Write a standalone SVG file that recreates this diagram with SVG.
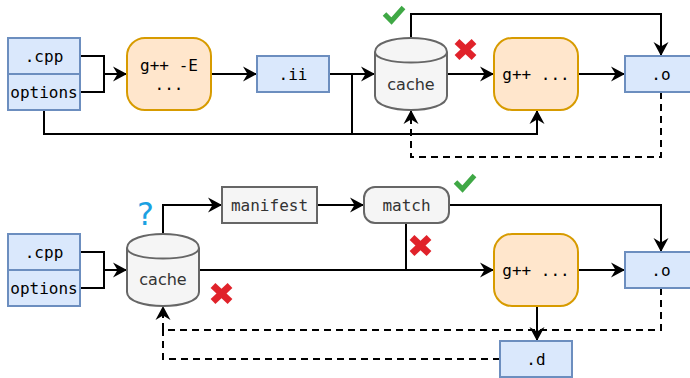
<svg xmlns="http://www.w3.org/2000/svg" xmlns:xlink="http://www.w3.org/1999/xlink" width="690" height="378" viewBox="0 0 690 378">
<style>
.blue{fill:#dae8fc;stroke:#6c8ebf;stroke-width:2}
.orange{fill:#ffe6cc;stroke:#d79b00;stroke-width:2}
.gray{fill:#f5f5f5;stroke:#666666;stroke-width:2}
.mono{font-family:"DejaVu Sans Mono","Liberation Mono",monospace;font-size:16px;fill:#000;text-anchor:middle}
.monog{font-family:"DejaVu Sans Mono","Liberation Mono",monospace;font-size:16px;fill:#333;text-anchor:middle}
.sans{font-family:"DejaVu Sans","Liberation Sans",sans-serif;font-size:16px;fill:#333;text-anchor:middle}
.ln{fill:none;stroke:#000;stroke-width:2}
.arr{marker-end:url(#arr)}
.dash{stroke-dasharray:7 5}
.chk{fill:none;stroke:#3fa845;stroke-width:5;stroke-linejoin:miter}
.xm{stroke:#e0222a;stroke-width:7}
</style>
<defs>
<marker id="arr" markerWidth="16" markerHeight="16" refX="14" refY="8" orient="auto" markerUnits="userSpaceOnUse" viewBox="0 0 16 16"><path d="M14,8 L0,0.5 L4.5,8 L0,15.5 Z" fill="#000"/></marker>
<g id="xmark"><line class="xm" x1="-8.5" y1="-8" x2="8.5" y2="8"/><line class="xm" x1="-8.5" y1="8" x2="8.5" y2="-8"/></g>
</defs>

<g id="connectors">
<path class="ln" d="M80,56 H104 V92 H80"/>
<path class="ln arr" d="M104,74 H127"/>
<path class="ln arr" d="M211,74 H257"/>
<path class="ln arr" d="M329,74 H375"/>
<path class="ln arr" d="M44,110 V134 H537 V110"/>
<path class="ln" d="M352,134 V74"/>
<path class="ln arr" d="M447,74 H494"/>
<path class="ln arr" d="M578,74 H625"/>
<path class="ln arr" d="M411,38 V14 H661 V56"/>
<path class="ln arr dash" d="M661,92 V157 H411 V110"/>

<path class="ln" d="M80,252 H104 V288 H80"/>
<path class="ln arr" d="M104,270 H127"/>
<path class="ln arr" d="M163,234 V205 H222"/>
<path class="ln arr" d="M317,205 H364"/>
<path class="ln arr" d="M449,205 H661 V252"/>
<path class="ln arr" d="M199,270 H494"/>
<path class="ln" d="M406,223 V270"/>
<path class="ln arr" d="M578,270 H625"/>
<path class="ln arr" d="M537,306 V341"/>
<path class="ln arr dash" d="M661,288 V330 H163 V306"/>
<path class="ln dash" d="M500,359 H163 V330"/>
</g>

<g id="top-cpp"><rect class="blue" x="8" y="38" width="72" height="36"/><text class="mono" x="44" y="61.5">.cpp</text></g>
<g id="top-options"><rect class="blue" x="8" y="74" width="72" height="36"/><text class="mono" x="44" y="97.5">options</text></g>
<g id="top-gppE"><rect class="orange" x="127" y="38" width="84" height="72" rx="18"/><text class="mono" x="169" y="70.5">g++ -E</text><text class="mono" x="169" y="89.5">...</text></g>
<g id="top-ii"><rect class="blue" x="257" y="56" width="72" height="36"/><text class="mono" x="293" y="79.5">.ii</text></g>
<g id="top-cache"><path class="gray" d="M375,52 C375,33.33 447,33.33 447,52 L447,96 C447,114.67 375,114.67 375,96 Z"/><path fill="none" stroke="#666" stroke-width="2" d="M375,52 C375,66 447,66 447,52"/><text class="sans" x="411" y="89.5">cache</text></g>
<g id="top-gpp"><rect class="orange" x="494" y="38" width="84" height="72" rx="18"/><text class="mono" x="536" y="79.5">g++ ...</text></g>
<g id="top-o"><rect class="blue" x="625" y="56" width="72" height="36"/><text class="mono" x="661" y="79.5">.o</text></g>
<g id="top-check"><polyline class="chk" points="384.5,14 391.5,21 403.5,7.5"/></g>
<g id="top-x"><use xlink:href="#xmark" href="#xmark" transform="translate(465.5,49.5)"/></g>

<g id="bot-cpp"><rect class="blue" x="8" y="234" width="72" height="36"/><text class="mono" x="44" y="257.5">.cpp</text></g>
<g id="bot-options"><rect class="blue" x="8" y="270" width="72" height="36"/><text class="mono" x="44" y="293.5">options</text></g>
<g id="bot-cache"><path class="gray" d="M127,248 C127,229.33 199,229.33 199,248 L199,292 C199,310.67 127,310.67 127,292 Z"/><path fill="none" stroke="#666" stroke-width="2" d="M127,248 C127,262 199,262 199,248"/><text class="sans" x="163" y="285">cache</text></g>
<g id="bot-question"><text x="145.5" y="225" style="font-family:'DejaVu Sans','Liberation Sans',sans-serif;font-size:32px;fill:#1ba1e2;text-anchor:middle">?</text></g>
<g id="bot-manifest"><rect class="gray" x="222" y="187" width="95" height="36"/><text class="monog" x="269.5" y="210.5">manifest</text></g>
<g id="bot-match"><rect class="gray" x="364" y="187" width="85" height="36" rx="11"/><text class="monog" x="406.5" y="210.5">match</text></g>
<g id="bot-check"><polyline class="chk" points="455.5,182 462.5,189 474.5,175.5"/></g>
<g id="bot-x-match"><use xlink:href="#xmark" href="#xmark" transform="translate(420.5,245.5)"/></g>
<g id="bot-x-cache"><use xlink:href="#xmark" href="#xmark" transform="translate(221.5,293.5)"/></g>
<g id="bot-gpp"><rect class="orange" x="494" y="234" width="84" height="72" rx="18"/><text class="mono" x="536" y="275.5">g++ ...</text></g>
<g id="bot-o"><rect class="blue" x="625" y="252" width="72" height="36"/><text class="mono" x="661" y="275.5">.o</text></g>
<g id="bot-d"><rect class="blue" x="500" y="341" width="72" height="36"/><text class="mono" x="536" y="364.5">.d</text></g>
</svg>
